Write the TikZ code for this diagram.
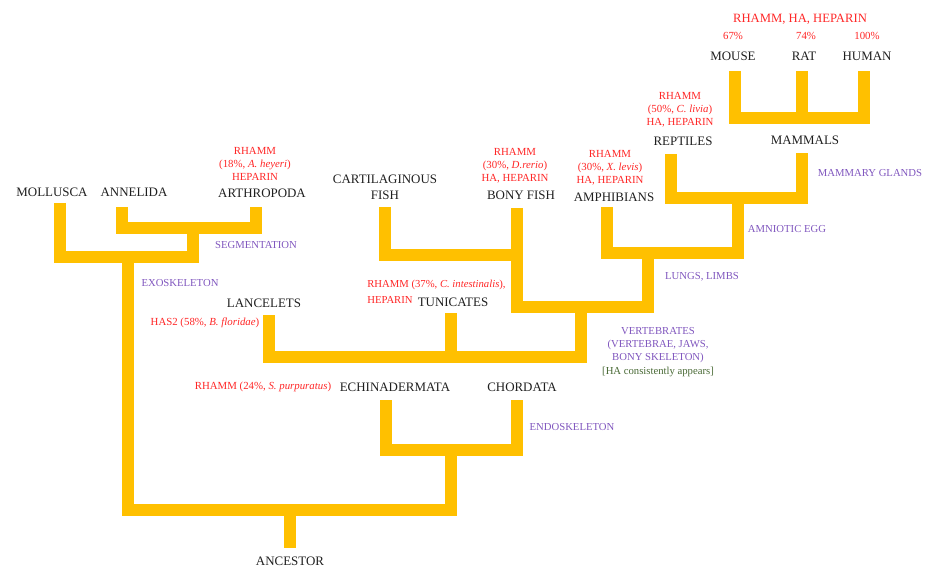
\documentclass[tikz,border=0pt]{standalone}
\usepackage{fontspec}
\setmainfont{Liberation Serif}
\usepackage{tikz}
\usetikzlibrary{positioning}

\definecolor{barcol}{RGB}{255,192,0}
\definecolor{genered}{RGB}{255,38,38}
\definecolor{traitpurple}{RGB}{128,86,190}
\definecolor{hagreen}{RGB}{72,105,52}

\tikzset{
  branch/.style={draw=barcol, line width=0.3cm, line join=miter},
  taxon/.style={font=\fontsize{9.2}{11.3}\selectfont, text=black!88, inner sep=0pt, align=center},
  gene/.style={font=\fontsize{7.7}{9.3}\selectfont, text=genered, inner sep=0pt, align=center},
  feature/.style={font=\fontsize{7.6}{9.3}\selectfont, text=traitpurple, inner sep=0pt, align=center},
}

\begin{document}
\begin{tikzpicture}[x=0.025cm, y=-0.025cm]
    \useasboundingbox (0,0) rectangle (925,570);

    % Taxa
    \node[taxon] (mouse) at (733,56) {MOUSE};
    \node[taxon] (rat) at (804,56) {RAT};
    \node[taxon] (human) at (867,56) {HUMAN};
    \node[taxon] (mammals) at (805,140) {MAMMALS};
    \node[taxon] (reptiles) at (683,141) {REPTILES};
    \node[taxon] (amphibians) at (614,197) {AMPHIBIANS};
    \node[taxon] (bonyfish) at (521,195) {BONY FISH};
    \node[taxon] (cartfish) at (385,187) {CARTILAGINOUS\\FISH};
    \node[taxon] (lancelets) at (264,303) {LANCELETS};
    \node[taxon] (tunicates) at (453,302) {TUNICATES};
    \node[taxon] (echino) at (395,387) {ECHINADERMATA};
    \node[taxon] (chordata) at (522,387) {CHORDATA};
    \node[taxon] (mollusca) at (52,192) {MOLLUSCA};
    \node[taxon] (annelida) at (134,192) {ANNELIDA};
    \node[taxon] (arthropoda) at (262,193) {ARTHROPODA};
    \node[taxon] (ancestor) at (290,561) {ANCESTOR};

    % RHAMM, HA and heparin
    \node[gene, font=\fontsize{9}{11}\selectfont] (mamgenes) at (800,19) {RHAMM, HA, HEPARIN};
    \node[gene] (pmouse) at (733,36) {67\%};
    \node[gene] (prat) at (806,36) {74\%};
    \node[gene] (phuman) at (867,36) {100\%};
    \node[gene] (reptgenes) at (680,110) {RHAMM\\(50\%, \textit{C. livia})\\HA, HEPARIN};
    \node[gene] (amphgenes) at (610,168) {RHAMM\\(30\%, \textit{X. levis})\\HA, HEPARIN};
    \node[gene] (fishgenes) at (515,166) {RHAMM\\(30\%, \textit{D.rerio})\\HA, HEPARIN};
    \node[gene] (arthgenes) at (255,164) {RHAMM\\(18\%, \textit{A. heyeri})\\HEPARIN};
    \node[gene, align=left, anchor=west, font=\fontsize{7.6}{11}\selectfont] (tunigenes) at (367,292)
      {RHAMM (37\%, \textit{C. intestinalis}),\\HEPARIN};
    \node[gene] (lancgenes) at (205,323) {HAS2 (58\%, \textit{B. floridae})};
    \node[gene] (echigenes) at (263,387) {RHAMM (24\%, \textit{S. purpuratus})};

    % Traits
    \node[feature] (mammary) at (870,173) {MAMMARY GLANDS};
    \node[feature] (amniotic) at (787,229) {AMNIOTIC EGG};
    \node[feature] (lungs) at (702,277) {LUNGS, LIMBS};
    \node[feature] (vertebrates) at (658,352)
      {VERTEBRATES\\(VERTEBRAE, JAWS,\\BONY SKELETON)\\{\color{hagreen}[HA consistently appears]}};
    \node[feature] (segment) at (256,245) {SEGMENTATION};
    \node[feature] (exo) at (180,283) {EXOSKELETON};
    \node[feature] (endo) at (572,427) {ENDOSKELETON};

    % Branch tips and joints
    \coordinate (mouse-tip) at (735,71);
    \coordinate (rat-tip) at (802,71);
    \coordinate (human-tip) at (864,71);
    \coordinate (mam-j) at (802,118);
    \coordinate (mam-tip) at (802,153);
    \coordinate (rept-tip) at (671,154);
    \coordinate (amn-j) at (738,198);
    \coordinate (amph-tip) at (607,207);
    \coordinate (tet-j) at (648,253);
    \coordinate (bony-tip) at (517,208);
    \coordinate (cart-tip) at (385,207);
    \coordinate (fish-j) at (517,255);
    \coordinate (gnath-j) at (581,307);
    \coordinate (lanc-tip) at (269,315);
    \coordinate (tuni-tip) at (451,313);
    \coordinate (chord-j) at (451,357);
    \coordinate (echi-tip) at (386,400);
    \coordinate (chord-tip) at (517,400);
    \coordinate (deut-j) at (451,450);
    \coordinate (moll-tip) at (60,203);
    \coordinate (anne-tip) at (122,207);
    \coordinate (arth-tip) at (256,207);
    \coordinate (arth-j) at (193,228);
    \coordinate (prot-j) at (128,257);
    \coordinate (root-j) at (290,510);
    \coordinate (anc-tip) at (290,548);

    % The tree
    \draw[branch] (mouse-tip) |- (mam-j) -| (human-tip);
    \draw[branch] (rat-tip) -- (mam-j);
    \draw[branch] (rept-tip) |- (amn-j) -| (mam-tip);
    \draw[branch] (amph-tip) |- (tet-j) -| (amn-j);
    \draw[branch] (cart-tip) |- (fish-j);
    \draw[branch] (bony-tip) |- (gnath-j) -| (tet-j);
    \draw[branch] (lanc-tip) |- (chord-j) -| (gnath-j);
    \draw[branch] (tuni-tip) -- (chord-j);
    \draw[branch] (echi-tip) |- (deut-j) -| (chord-tip);
    \draw[branch] (anne-tip) |- (arth-j) -| (arth-tip);
    \draw[branch] (moll-tip) |- (prot-j) -| (arth-j);
    \draw[branch] (prot-j) |- (root-j) -| (deut-j);
    \draw[branch] (root-j) -- (anc-tip);
\end{tikzpicture}
\end{document}
